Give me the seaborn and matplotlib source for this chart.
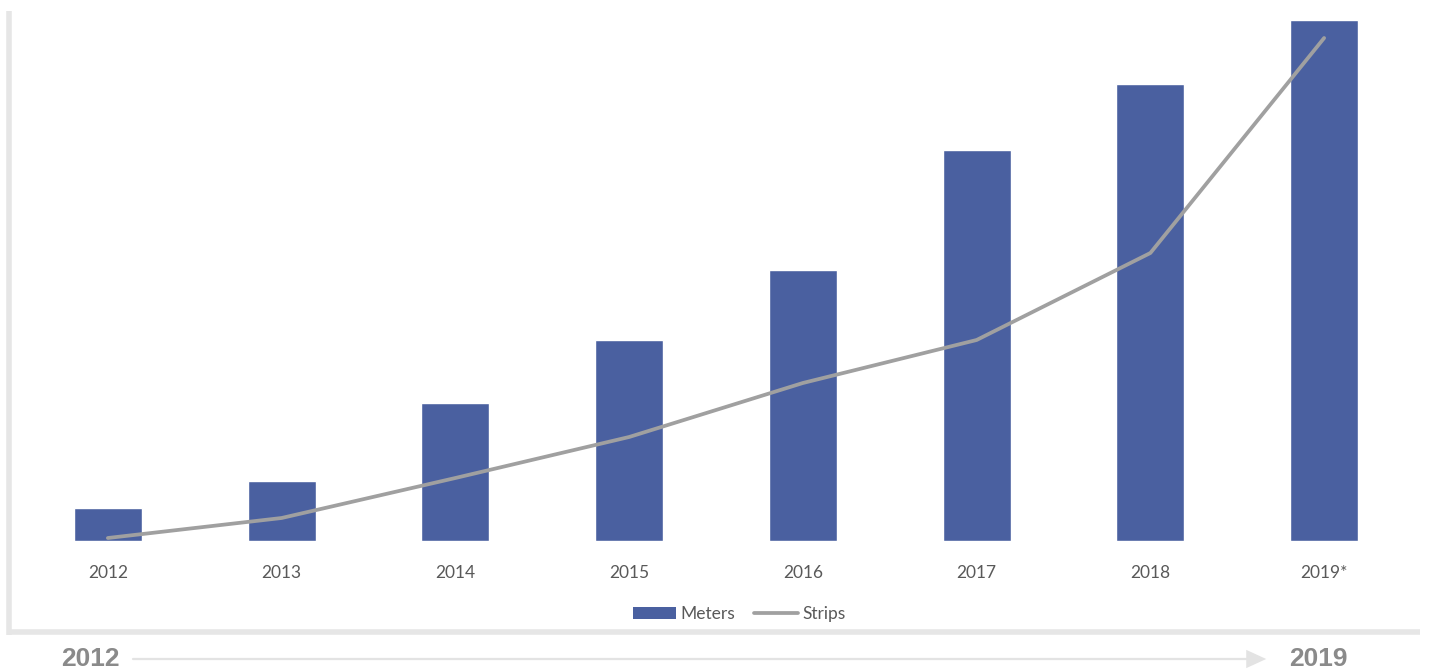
import numpy as np
import pandas as pd
import seaborn as sns
import matplotlib.pyplot as plt
from matplotlib.patches import Patch
from matplotlib.lines import Line2D
#---------------------------------------------------------------------------#
years = ['2012', '2013', '2014', '2015', '2016', '2017', '2018', '2019*']
meters = [33, 60, 138, 201, 271, 391, 457, 521]
strips = [3, 23, 63, 104, 158, 201, 288, 503]

bar_color = '#4a60a0'
line_color = '#a0a0a0'
text_color = '#595959'

df = pd.DataFrame({'year': years, 'Meters': meters, 'Strips': strips})

sns.set_theme(style='white')
plt.rcParams['font.family'] = ['Lato', 'DejaVu Sans']

fig = plt.figure(figsize=(14.31, 6.71), dpi=100)
fig.patch.set_facecolor('white')
ax = fig.add_axes([21/1431, 130/671, 1390/1431, 526/671])

sns.barplot(data=df, x='year', y='Meters', color=bar_color, width=0.39,
            saturation=1, ax=ax)
sns.lineplot(x=np.arange(len(years)), y=df['Strips'], color=line_color,
             linewidth=2.7, ax=ax)

ax.set_xlim(-0.5, len(years) - 0.5)
ax.set_ylim(0, 526)
ax.set_xlabel('')
ax.set_ylabel('')
ax.set_yticks([])
ax.tick_params(axis='x', length=0, pad=17, labelsize=12.5, labelcolor=text_color)
for s in ax.spines.values():
    s.set_visible(False)

# legend under the plot
handles = [Patch(facecolor=bar_color, edgecolor='none', label='Meters'),
           Line2D([0], [0], color=line_color, lw=2.7, label='Strips')]
fig.legend(handles=handles, loc='center', bbox_to_anchor=(739/1431, 1 - 614/671),
           ncol=2, frameon=False, fontsize=12.5, labelcolor=text_color,
           handlelength=2.5, handletextpad=0.25, columnspacing=1.1)

# light grey frame (left and bottom)
frame = '#e6e6e6'
fig.add_artist(Line2D([9/1431, 9/1431], [1 - 11/671, 1 - 635/671],
                      color=frame, lw=4, solid_capstyle='butt',
                      transform=fig.transFigure))
fig.add_artist(Line2D([7/1431, 1420/1431], [1 - 632/671, 1 - 632/671],
                      color=frame, lw=4, solid_capstyle='butt',
                      transform=fig.transFigure))

# timeline at the bottom
yb = 1 - 659/671
fig.text(90/1431, yb, '2012', ha='center', va='center', fontsize=19,
         fontweight='bold', color='#8a8a8a', family='Liberation Sans')
fig.text(1318/1431, yb, '2019', ha='center', va='center', fontsize=19,
         fontweight='bold', color='#8a8a8a', family='Liberation Sans')
fig.add_artist(Line2D([133/1431, 1256/1431], [yb, yb], color='#e3e3e3', lw=1.6,
                      transform=fig.transFigure))
ax.annotate('', xy=(1269/1431, yb), xytext=(1250/1431, yb),
            xycoords='figure fraction', textcoords='figure fraction',
            arrowprops=dict(arrowstyle='-|>,head_length=1.2,head_width=0.55',
                            color='#e3e3e3', lw=0))

plt.savefig('out.png', dpi=100)
